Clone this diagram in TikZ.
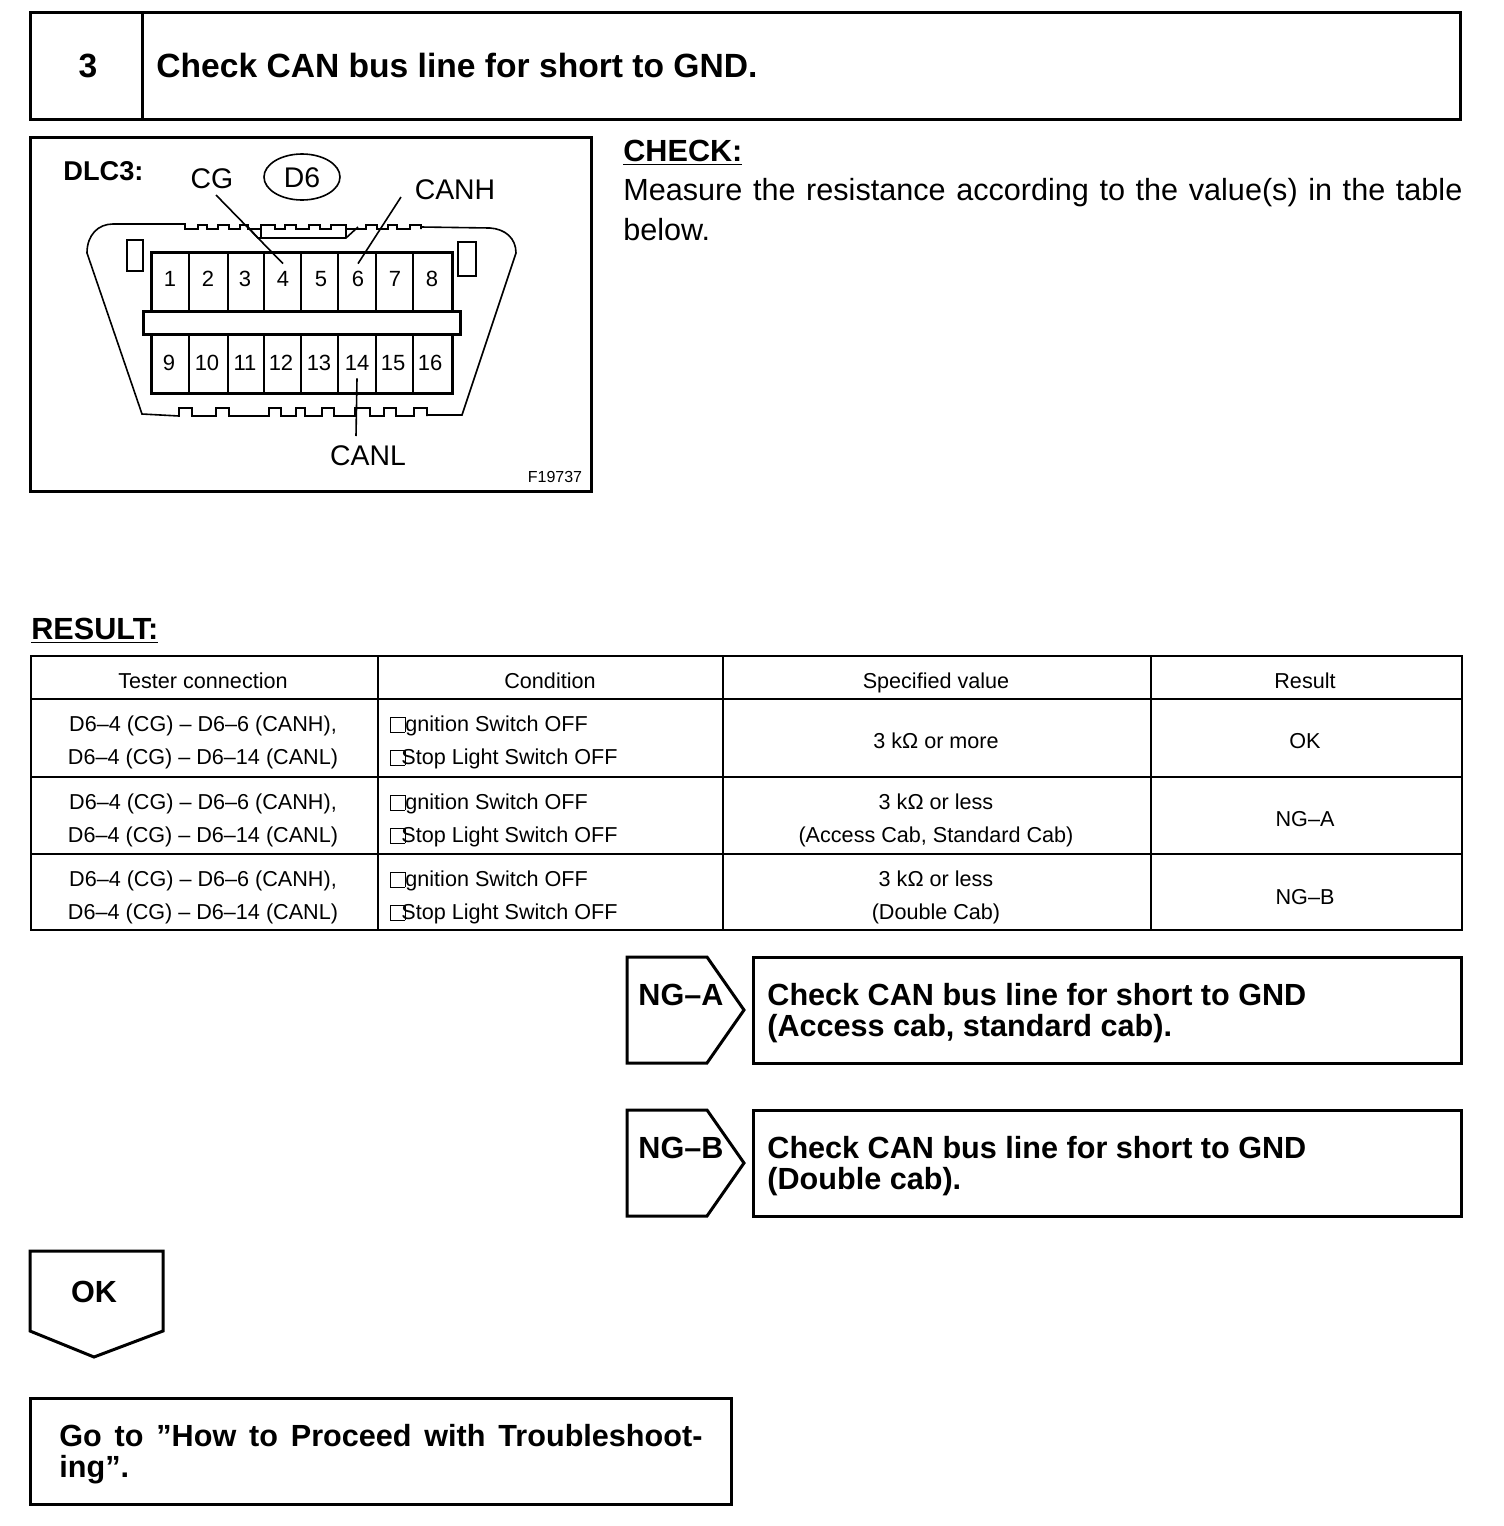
\documentclass[tikz,border=0pt]{standalone}
\usepackage{fontspec}
\setmainfont{Liberation Sans}
\usetikzlibrary{shapes.geometric}
\newcommand{\missbox}{{\fboxsep=0pt\fboxrule=.45pt\raisebox{0pt}{\fbox{\rule{6.6pt}{0pt}\rule{0pt}{7.2pt}}}}}
\tikzset{
	box/.style={draw, line width=1.5pt},
	thinline/.style={line width=.8pt},
	title/.style={font=\fontsize{16.8}{15.5}\selectfont\bfseries, text height=12pt, text depth=0pt, inner sep=0pt},
	big/.style={font=\fontsize{15.3}{15.5}\selectfont\bfseries, text height=11pt, text depth=0pt, inner sep=0pt},
	body/.style={font=\fontsize{15.3}{20}\selectfont, inner sep=0pt},
	lbl/.style={font=\fontsize{14.2}{16}\selectfont, text height=10.2pt, text depth=0pt, inner sep=0pt},
	pin/.style={font=\fontsize{11}{12}\selectfont, minimum height=15pt, inner sep=0pt},
	cell/.style={font=\fontsize{10.8}{12}\selectfont, text height=7.8pt, text depth=0pt, inner sep=0pt},
}
\begin{document}
\begin{tikzpicture}[x=.5pt,y=-.5pt]
	\useasboundingbox (0,0) rectangle (1504,1526);
	\draw[box] (30,12) rectangle (1460,119);
	\draw[box] (142,12) -- (142,119);
	\node[title] (stepno) at (88,65) {3};
	\node[title,anchor=west] (steptitle) at (156,65) {Check CAN bus line for short to GND.};

	\draw[box] (30,137) rectangle (591,491);
	\node[lbl,font=\fontsize{13.6}{16}\selectfont\bfseries,anchor=west] (dlc) at (63,170) {DLC3:};
	\node[lbl] (lblcg) at (212,178) {CG};
	\node[lbl,draw,thinline,ellipse,minimum width=38pt,minimum height=23pt] (dsix) at (302,177) {D6};
	\node[lbl] (lblcanh) at (455,189) {CANH};
	\node[lbl] (lblcanl) at (368,455) {CANL};
	\node[font=\fontsize{8}{9}\selectfont,inner sep=0pt] (fig) at (555,477) {F19737};

	\draw[thinline] (87,253) .. controls (87,235) and (98,224) .. (113,224) -- (185,224) -- (185,229)
		\foreach \a/\b in {198/207,218/229,240/248,261/275,285/296,309/320,331/346,366/377,388/397,410/421} { -- (\a,229) -- (\a,225) -- (\b,225) -- (\b,229) }
		-- (421,227) -- (490,228) .. controls (505,229) and (516,238) .. (516,253) -- (462,415) -- (427,415)
		\foreach \a/\b in {427/414,396/384,370/355,334/322,305/296,281/269,229/216,192/179} { -- (\a,416) -- (\a,408) -- (\b,408) -- (\b,416) }
		-- (142,414) -- cycle;
	\draw[thinline] (248,227) -- (258,238) -- (346,238) -- (358,227);
	\draw[thinline] (261,225) -- (261,238);
	\draw[thinline] (346,225) -- (346,238);
	\draw[thinline] (127,240) rectangle (143,271);
	\draw[thinline] (458,242) rectangle (476,276);

	\draw[box] (151,252) rectangle (452,393);
	\foreach \x in {189,228,264,301,338,376,413} {
		\draw[thinline] (\x,252) -- (\x,393);
	}
	\draw[box,fill=white] (143,311) rectangle (460,334);
	\foreach \n/\x in {1/170,2/208,3/245,4/283,5/321,6/358,7/395,8/432} {
		\node[pin] (pin\n) at (\x,279) {\n};
	}
	\foreach \n/\x in {9/169,10/207,11/245,12/281,13/319,14/357,15/393,16/430} {
		\node[pin] (pin\n) at (\x,363) {\n};
	}
	\coordinate (cgfoot) at (216,195);
	\coordinate (canhfoot) at (401,197);
	\coordinate (canlfoot) at (356,436);
	\draw[thinline] (cgfoot) -- (pin4.north);
	\draw[thinline] (canhfoot) -- (pin6.north);
	\draw[thinline] (pin14.south) -- (canlfoot);

	\node[big,anchor=west] (check) at (623,150) {\underline{CHECK:}};
	\node[body,anchor=base west,text width=419.5pt,align=justify] (measure) at (623,200) {Measure the resistance according to the value(s) in the table below.};

	\node[big,anchor=west] (result) at (31,628) {\underline{RESULT:}};
	\draw[line width=1.3pt] (31,656) rectangle (1462,930);
	\foreach \y in {699,777,854} {
		\draw[line width=1.3pt] (31,\y) -- (1462,\y);
	}
	\foreach \x in {378,723,1151} {
		\draw[line width=1.3pt] (\x,656) -- (\x,930);
	}
	\node[cell] (headtester) at (203,681) {Tester connection};
	\node[cell] (headcond) at (550,681) {Condition};
	\node[cell] (headspec) at (936,681) {Specified value};
	\node[cell] (headres) at (1305,681) {Result};
	\foreach \r/\y in {1/724,2/802,3/879} {
		\node[cell] (tester\r a) at (203,\y) {D6–4 (CG) – D6–6 (CANH),};
		\node[cell] (tester\r b) at (203,\y+33) {D6–4 (CG) – D6–14 (CANL)};
		\node[cell,anchor=west] (cond\r a) at (390,\y) {\missbox gnition Switch OFF};
		\node[cell,anchor=west] (cond\r b) at (390,\y+33) {\rlap{\missbox}\hspace{5.5pt}Stop Light Switch OFF};
	}
	\node[cell] (specone) at (936,741) {3 kΩ or more};
	\node[cell] (spectwoa) at (936,802) {3 kΩ or less};
	\node[cell] (spectwob) at (936,835) {(Access Cab, Standard Cab)};
	\node[cell] (specthreea) at (936,879) {3 kΩ or less};
	\node[cell] (specthreeb) at (936,912) {(Double Cab)};
	\node[cell] (resok) at (1305,741) {OK};
	\node[cell] (resa) at (1305,819) {NG–A};
	\node[cell] (resb) at (1305,897) {NG–B};

	\draw[box] (627,957) -- (707,957) -- (744,1010) -- (707,1063) -- (627,1063) -- cycle;
	\node[big] (nga) at (681,994) {NG–A};
	\draw[box] (753,957) rectangle (1461,1063);
	\node[big,anchor=west] (ngatexta) at (767,994) {Check CAN bus line for short to GND};
	\node[big,anchor=west] (ngatextb) at (767,1025) {(Access cab, standard cab).};

	\draw[box] (627,1110) -- (707,1110) -- (744,1163) -- (707,1216) -- (627,1216) -- cycle;
	\node[big] (ngb) at (681,1147) {NG–B};
	\draw[box] (753,1110) rectangle (1461,1216);
	\node[big,anchor=west] (ngbtexta) at (767,1147) {Check CAN bus line for short to GND};
	\node[big,anchor=west] (ngbtextb) at (767,1178) {(Double cab).};

	\draw[box] (30,1251) -- (163,1251) -- (163,1331) -- (94,1357) -- (30,1331) -- cycle;
	\node[big] (ok) at (94,1291) {OK};
	\draw[box] (30,1398) rectangle (731,1504);
	\node[big,anchor=base west,text height=,text width=321.5pt,align=justify] (goto) at (59,1446) {Go to ”How to Proceed with Troubleshoot-\linebreak ing”.};
\end{tikzpicture}
\end{document}
